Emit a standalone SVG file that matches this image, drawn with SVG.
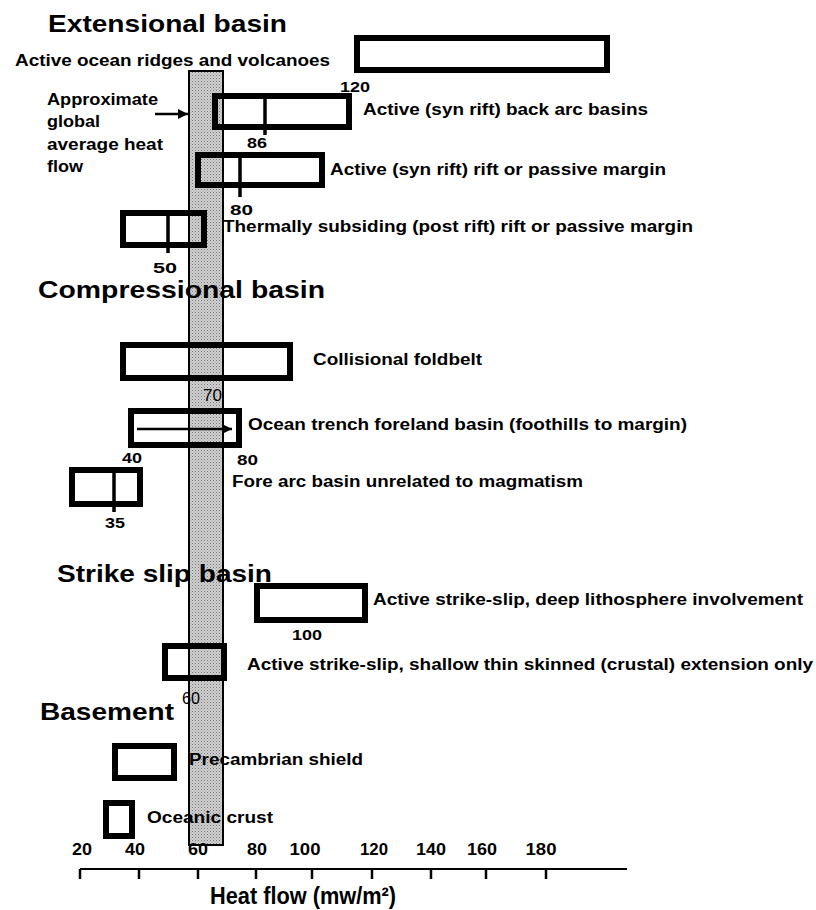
<svg xmlns="http://www.w3.org/2000/svg" width="816" height="910" viewBox="0 0 816 910">
<defs>
<pattern id="hatch" width="3" height="3" patternUnits="userSpaceOnUse">
<rect width="3" height="3" fill="#d0d0d0"/>
<rect width="1" height="1" fill="#777"/>
<rect x="1.5" y="1.5" width="1" height="1" fill="#999"/>
</pattern>
<marker id="ah" viewBox="0 0 10 10" refX="10" refY="5" markerWidth="4" markerHeight="4" markerUnits="strokeWidth" orient="auto">
<path d="M0,0 L10,5 L0,10 z" fill="#000"/>
</marker>
</defs>
<style>
text{font-family:"Liberation Sans",Arial,sans-serif;fill:#000}
.h{font-size:24px;font-weight:bold}
.l{font-size:16px;font-weight:bold}
.n{font-size:15px;font-weight:bold}
.r{font-size:16px;font-weight:normal}
.t{font-size:17px;font-weight:bold}
.box{fill:none;stroke:#000;stroke-width:6}
.div{stroke:#000;stroke-width:3.5}
.arr{stroke:#000;stroke-width:2.5;fill:none}
</style>
<rect width="816" height="910" fill="#fff"/>

<g id="band">
<rect x="189" y="71" width="34" height="774" fill="url(#hatch)" stroke="#000" stroke-width="2"/>
</g>

<g id="headings">
<text class="h" x="48" y="32" textLength="239" lengthAdjust="spacingAndGlyphs">Extensional basin</text>
<text class="h" x="38" y="298" textLength="287" lengthAdjust="spacingAndGlyphs">Compressional basin</text>
<text class="h" x="57" y="582" textLength="215" lengthAdjust="spacingAndGlyphs">Strike slip basin</text>
<text class="h" x="40" y="720" textLength="134" lengthAdjust="spacingAndGlyphs">Basement</text>
</g>

<g id="approx">
<text class="l" x="47" y="105" textLength="111" lengthAdjust="spacingAndGlyphs">Approximate</text>
<text class="l" x="47" y="127" textLength="53" lengthAdjust="spacingAndGlyphs">global</text>
<text class="l" x="47" y="150" textLength="116" lengthAdjust="spacingAndGlyphs">average heat</text>
<text class="l" x="47" y="172" textLength="36" lengthAdjust="spacingAndGlyphs">flow</text>
</g>

<g id="ocean-ridges">
<rect class="box" x="357" y="38" width="250" height="32"/>
<text class="l" x="15" y="66" textLength="315" lengthAdjust="spacingAndGlyphs">Active ocean ridges and volcanoes</text>
<text class="n" x="340" y="92" textLength="30" lengthAdjust="spacingAndGlyphs">120</text>
</g>

<g id="back-arc">
<rect class="box" x="215" y="96" width="134" height="31"/>
<line class="div" x1="265" y1="96" x2="265" y2="135"/>
<text class="l" x="363" y="115" textLength="285" lengthAdjust="spacingAndGlyphs">Active (syn rift) back arc basins</text>
<text class="n" x="247" y="148" textLength="20" lengthAdjust="spacingAndGlyphs">86</text>
</g>

<g id="syn-rift">
<rect class="box" x="198" y="155" width="124" height="30"/>
<line class="div" x1="240" y1="155" x2="240" y2="197"/>
<text class="l" x="330" y="175" textLength="336" lengthAdjust="spacingAndGlyphs">Active (syn rift) rift or passive margin</text>
<text class="n" x="230" y="215" textLength="23" lengthAdjust="spacingAndGlyphs">80</text>
</g>

<g id="thermal">
<rect class="box" x="123" y="213" width="81" height="32"/>
<line class="div" x1="168" y1="213" x2="168" y2="253"/>
<text class="l" x="223" y="232" textLength="470" lengthAdjust="spacingAndGlyphs">Thermally subsiding (post rift) rift or passive margin</text>
<text class="n" x="153" y="273" textLength="24" lengthAdjust="spacingAndGlyphs">50</text>
</g>

<g id="collisional">
<rect class="box" x="123" y="345" width="167" height="33"/>
<text class="l" x="313" y="365" textLength="169" lengthAdjust="spacingAndGlyphs">Collisional foldbelt</text>
</g>

<g id="ocean-trench">
<rect class="box" x="131" y="411" width="108" height="34"/>
<text class="r" x="203" y="401" textLength="19" lengthAdjust="spacingAndGlyphs">70</text>
<text class="l" x="248" y="430" textLength="439" lengthAdjust="spacingAndGlyphs">Ocean trench foreland basin (foothills to margin)</text>
<text class="n" x="122" y="463" textLength="20" lengthAdjust="spacingAndGlyphs">40</text>
<text class="n" x="237" y="465" textLength="21" lengthAdjust="spacingAndGlyphs">80</text>
</g>

<g id="fore-arc">
<rect class="box" x="72" y="470" width="68" height="34"/>
<line class="div" x1="114" y1="470" x2="114" y2="512"/>
<text class="l" x="232" y="487" textLength="351" lengthAdjust="spacingAndGlyphs">Fore arc basin unrelated to magmatism</text>
<text class="n" x="105" y="528" textLength="20" lengthAdjust="spacingAndGlyphs">35</text>
</g>

<g id="deep-strike-slip">
<rect class="box" x="257" y="586" width="108" height="34"/>
<text class="l" x="373" y="605" textLength="430" lengthAdjust="spacingAndGlyphs">Active strike-slip, deep lithosphere involvement</text>
<text class="n" x="292" y="640" textLength="30" lengthAdjust="spacingAndGlyphs">100</text>
</g>

<g id="shallow-strike-slip">
<rect class="box" x="165" y="646" width="59" height="32"/>
<text class="l" x="247" y="670" textLength="566" lengthAdjust="spacingAndGlyphs">Active strike-slip, shallow thin skinned (crustal) extension only</text>
<text class="r" x="182" y="704" textLength="18" lengthAdjust="spacingAndGlyphs">60</text>
</g>

<g id="precambrian">
<rect class="box" x="115" y="746" width="59" height="32"/>
<text class="l" x="189" y="765" textLength="174" lengthAdjust="spacingAndGlyphs">Precambrian shield</text>
</g>

<g id="oceanic-crust">
<rect class="box" x="106" y="803" width="26" height="33"/>
<text class="l" x="147" y="823" textLength="126" lengthAdjust="spacingAndGlyphs">Oceanic crust</text>
</g>

<g id="axis">
<line x1="80" y1="869" x2="627" y2="869" stroke="#000" stroke-width="2"/>
<g stroke="#000" stroke-width="2.5">
<line x1="80" y1="869" x2="80" y2="879"/>
<line x1="139" y1="869" x2="139" y2="879"/>
<line x1="198" y1="869" x2="198" y2="879"/>
<line x1="256" y1="869" x2="256" y2="879"/>
<line x1="312" y1="869" x2="312" y2="879"/>
<line x1="372" y1="869" x2="372" y2="879"/>
<line x1="431" y1="869" x2="431" y2="879"/>
<line x1="486" y1="869" x2="486" y2="879"/>
<line x1="546" y1="869" x2="546" y2="879"/>
</g>
<g text-anchor="middle">
<text class="t" x="82" y="855" textLength="20" lengthAdjust="spacingAndGlyphs">20</text>
<text class="t" x="135" y="855" textLength="20" lengthAdjust="spacingAndGlyphs">40</text>
<text class="t" x="198" y="855" textLength="20" lengthAdjust="spacingAndGlyphs">60</text>
<text class="t" x="257" y="855" textLength="20" lengthAdjust="spacingAndGlyphs">80</text>
<text class="t" x="305" y="855" textLength="31" lengthAdjust="spacingAndGlyphs">100</text>
<text class="t" x="374" y="855" textLength="28" lengthAdjust="spacingAndGlyphs">120</text>
<text class="t" x="431" y="855" textLength="30" lengthAdjust="spacingAndGlyphs">140</text>
<text class="t" x="482" y="855" textLength="30" lengthAdjust="spacingAndGlyphs">160</text>
<text class="t" x="541" y="855" textLength="31" lengthAdjust="spacingAndGlyphs">180</text>
</g>
<text class="h" x="210" y="904" textLength="186" lengthAdjust="spacingAndGlyphs">Heat flow (mw/m²)</text>
</g>

<g id="connectors">
<line class="arr" x1="155" y1="114" x2="188" y2="114" marker-end="url(#ah)"/>
<line class="arr" x1="137" y1="429" x2="232" y2="429" marker-end="url(#ah)"/>
</g>
</svg>
